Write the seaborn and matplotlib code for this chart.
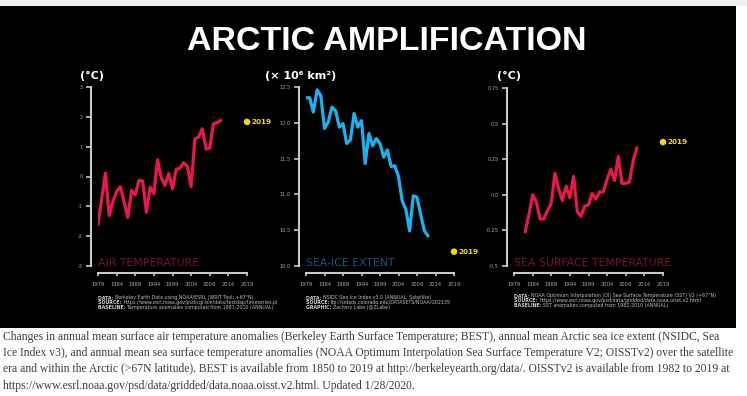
import numpy as np
import matplotlib.pyplot as plt
import seaborn as sns
import pandas as pd
from matplotlib.patches import Rectangle

# values
air_years = list(range(1979, 2013))
air_temp = [-1.61, -0.75, 0.11, -1.31, -0.85, -0.50, -0.34, -0.85, -1.37, -0.47,
            -0.62, -0.13, -0.15, -1.20, -0.36, -0.58, 0.56, -0.05, -0.30, 0.09,
            -0.41, 0.24, 0.28, 0.46, 0.33, -0.34, 1.26, 1.32, 1.60, 0.93,
            0.95, 1.77, 1.80, 1.88]
ice_years = list(range(1979, 2013))
sea_ice = [12.35, 12.35, 12.15, 12.46, 12.38, 11.92, 12.01, 12.22, 12.17, 11.94,
           11.99, 11.71, 11.76, 12.13, 11.94, 12.03, 11.43, 11.85, 11.68, 11.78,
           11.71, 11.52, 11.62, 11.39, 11.40, 11.25, 10.91, 10.79, 10.49, 10.98,
           10.96, 10.72, 10.49, 10.42]
sst_years = list(range(1982, 2013))
sst = [-0.26, -0.14, 0.00, -0.05, -0.17, -0.17, -0.11, -0.06, 0.15, 0.04,
       -0.04, 0.06, -0.02, 0.13, -0.12, -0.15, -0.08, -0.07, 0.01, -0.03,
       0.02, 0.02, 0.11, 0.18, 0.10, 0.27, 0.08, 0.08, 0.09, 0.24, 0.33]

year_2019 = 2019
air_2019 = 1.83
ice_2019 = 10.2
sst_2019 = 0.37

year_ticks = list(range(1979, 2020, 5))
air_ticks = [-3, -2, -1, 0, 1, 2, 3]
air_labels = ['-3', '-2', '-1', '0', '1', '2', '3']
ice_ticks = [10.0, 10.5, 11.0, 11.5, 12.0, 12.5]
ice_labels = ['10.0', '10.5', '11.0', '11.5', '12.0', '12.5']
sst_ticks = [-0.5, -0.25, 0.0, 0.25, 0.5, 0.75]
sst_labels = ['-0.5', '-0.25', '0.0', '0.25', '0.5', '0.75']

air_notes = [('DATA: ', 'Berkeley Earth Data using NOAA/ESRL (WRIT Tool; +67°N)'),
             ('SOURCE: ', 'https://www.esrl.noaa.gov/psd/cgi-bin/data/testdap/timeseries.pl'),
             ('BASELINE: ', 'Temperature anomalies computed from 1981-2010 (ANNUAL)')]
ice_notes = [('DATA: ', 'NSIDC Sea Ice Index v3.0 (ANNUAL; Satellite)'),
             ('SOURCE: ', 'ftp://sidads.colorado.edu/DATASETS/NOAA/G02135'),
             ('GRAPHIC: ', 'Zachary Labe (@ZLabe)')]
sst_notes = [('DATA: ', 'NOAA Optimum Interpolation (OI) Sea Surface Temperature (SST) V2 (+67°N)'),
             ('SOURCE: ', 'https://www.esrl.noaa.gov/psd/data/gridded/data.noaa.oisst.v2.html'),
             ('BASELINE: ', 'SST anomalies computed from 1982-2010 (ANNUAL)')]

caption = ['Changes in annual mean surface air temperature anomalies (Berkeley Earth Surface Temperature; BEST), annual mean Arctic sea ice extent (NSIDC, Sea',
           'Ice Index v3), and annual mean sea surface temperature anomalies (NOAA Optimum Interpolation Sea Surface Temperature V2; OISSTv2) over the satellite',
           'era and within the Arctic (>67N latitude). BEST is available from 1850 to 2019 at http://berkeleyearth.org/data/. OISSTv2 is available from 1982 to 2019 at',
           'https://www.esrl.noaa.gov/psd/data/gridded/data.noaa.oisst.v2.html. Updated 1/28/2020.']

sns.set_style('ticks')
plt.rcParams['font.family'] = ['DejaVu Sans']

W, H = 747, 396
fig = plt.figure(figsize=(W / 100, H / 100), dpi=100, facecolor='white')


def fx(x):
    return x / W


def fy(y):
    return 1 - y / H


# black poster background and thin grey strip on top
fig.add_artist(Rectangle((0, fy(6)), fx(W), 6 / H, transform=fig.transFigure,
                         facecolor='#f1f1f1', edgecolor='none', zorder=-2))
fig.add_artist(Rectangle((0, fy(328)), fx(736), 322 / H, transform=fig.transFigure,
                         facecolor='black', edgecolor='none', zorder=-1))

fig.text(fx(387), fy(41), 'ARCTIC AMPLIFICATION', ha='center', va='center',
         fontsize=24.5, weight='bold', color='white', family='Liberation Sans')

yellow = '#f5d70c'
axis_grey = '#c8c8c8'
tick_grey = '#a8a8a8'


def panel(left, right, top, bottom, years, values, color, ylim, yticks, ylabels,
          unit, unit_x, name, name_color, v2019, notes, note_y):
    ax = fig.add_axes([fx(left), fy(bottom), fx(right - left), (bottom - top) / H])
    ax.set_facecolor('none')
    sns.lineplot(x=years, y=values, ax=ax, color=color, lw=2.3)
    sns.scatterplot(x=[year_2019], y=[v2019], ax=ax, color=yellow, s=22,
                    edgecolor='none', clip_on=False, zorder=5)
    ax.annotate('2019', xy=(year_2019, v2019), xytext=(3, 0), textcoords='offset points',
                ha='left', va='center', color=yellow, fontsize=5.2, weight='bold',
                annotation_clip=False)
    ax.set_xlim(1979, 2019)
    ax.set_ylim(*ylim)
    ax.set_xticks(year_ticks)
    ax.set_xticklabels([str(y) for y in year_ticks])
    ax.set_yticks(yticks)
    ax.set_yticklabels(ylabels)
    ax.set_xlabel('')
    ax.set_ylabel('')
    sns.despine(ax=ax, offset=5)
    for s in ['left', 'bottom']:
        ax.spines[s].set_color(axis_grey)
        ax.spines[s].set_linewidth(1.5)
    ax.tick_params(axis='x', colors=axis_grey, labelcolor=tick_grey, labelsize=3.7,
                   length=2.5, width=1.2, pad=4)
    ax.tick_params(axis='y', colors=axis_grey, labelcolor=tick_grey, labelsize=3.6,
                   length=3.5, width=1.2, pad=2.5)
    ax.text(0.0, 0.0, name, transform=ax.transAxes, ha='left', va='baseline',
            color=name_color, fontsize=7.8)
    fig.text(fx(unit_x), fy(76), unit, ha='left', va='center', color='white',
             fontsize=8, weight='bold')
    for i, (head, rest) in enumerate(notes):
        t = fig.text(fx(left), fy(note_y + i * 4.6), head, ha='left', va='center',
                     color='#d0d0d0', fontsize=3.4, weight='bold')
        ax.annotate(rest, xy=(1, 0.5), xycoords=t, ha='left', va='center',
                    color='#c0c0c0', fontsize=3.4, annotation_clip=False)
    return ax


panel(98, 247, 87, 266, air_years, air_temp, '#e8184b', (-3, 3), air_ticks, air_labels,
      '(°C)', 80, 'AIR TEMPERATURE', '#7a1429', air_2019, air_notes, 298)
panel(306, 454, 87, 266, ice_years, sea_ice, '#1ab3f0', (10.0, 12.5), ice_ticks, ice_labels,
      '(× 10⁶ km²)', 265, 'SEA-ICE EXTENT', '#14597a', ice_2019, ice_notes, 298)
panel(514, 663, 88, 266, sst_years, sst, '#e8184b', (-0.5, 0.75), sst_ticks, sst_labels,
      '(°C)', 497, 'SEA SURFACE TEMPERATURE', '#7a1429', sst_2019, sst_notes, 296)

for i, line in enumerate(caption):
    fig.text(fx(3), fy(337 + i * 16.2), line, ha='left', va='center',
             color='#3c3c3c', fontsize=8.4, family='Liberation Serif')

fig.savefig('out.png', dpi=100, facecolor=fig.get_facecolor())
